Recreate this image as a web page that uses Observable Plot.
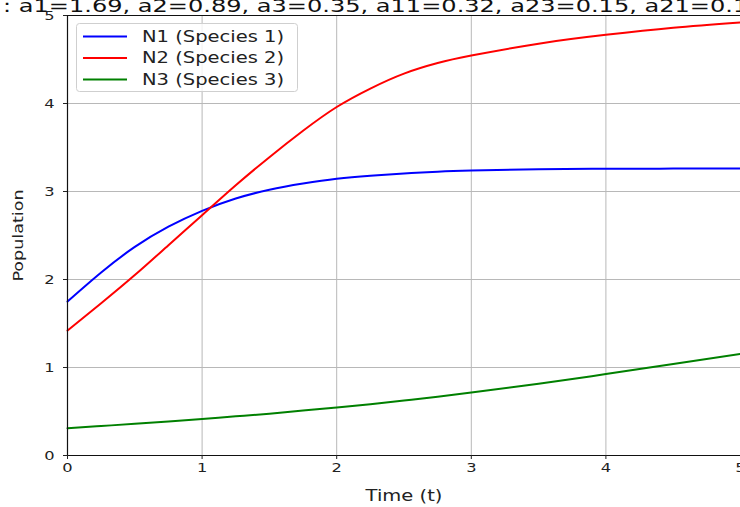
<!DOCTYPE html>
<html>
<head>
<meta charset="utf-8">
<script src="https://cdn.jsdelivr.net/npm/d3@7"></script>
<script src="https://cdn.jsdelivr.net/npm/@observablehq/plot@0.6"></script>
<style>
  html, body { margin: 0; padding: 0; background: white; }
  #wrap { position: relative; width: 740px; height: 507px; overflow: hidden; }
  #overlay { position: absolute; left: 0; top: 0; pointer-events: none; }
</style>
</head>
<body>
<div id="wrap"><div id="chart"></div></div>
<script>
// ---- data ----
const titleText = ": a1=1.69, a2=0.89, a3=0.35, a11=0.32, a23=0.15, a21=0.1";
const xLabel = "Time (t)";
const yLabel = "Population";
const seriesNames = ["N1 (Species 1)", "N2 (Species 2)", "N3 (Species 3)"];
const seriesColors = ["#0000ff", "#ff0000", "#008000"];
const xTicks = [0, 1, 2, 3, 4, 5];
const yTicks = [0, 1, 2, 3, 4, 5];
const times = [0, 0.25, 0.5, 0.75, 1, 1.25, 1.5, 1.75, 2, 2.25, 2.5, 2.75, 3, 3.5, 4, 4.5, 5];
const n1 = [1.75, 2.08, 2.37, 2.6, 2.78, 2.92, 3.02, 3.09, 3.145, 3.18, 3.205, 3.225, 3.238, 3.252, 3.258, 3.26, 3.26];
const n2 = [1.42, 1.73, 2.05, 2.39, 2.73, 3.07, 3.39, 3.69, 3.96, 4.17, 4.34, 4.46, 4.545, 4.68, 4.78, 4.86, 4.92];
const n3 = [0.31, 0.335, 0.36, 0.387, 0.415, 0.445, 0.475, 0.51, 0.545, 0.583, 0.625, 0.668, 0.715, 0.815, 0.925, 1.04, 1.155];

const seriesValues = [n1, n2, n3];
const rows = [];
seriesNames.forEach((name, i) => {
  times.forEach((t, j) => rows.push({series: name, t, v: seriesValues[i][j]}));
});

const FONT = "DejaVu Sans";
const STRETCH = 1.3;

const chart = Plot.plot({
  width: 740,
  height: 507,
  marginLeft: 67,
  marginRight: 0,
  marginTop: 15,
  marginBottom: 52,
  style: {fontFamily: FONT, fontSize: "12.5px", color: "#222", background: "white", overflow: "hidden"},
  x: {domain: [0, 5]},
  y: {domain: [0, 5]},
  color: {domain: seriesNames, range: seriesColors},
  marks: [
    Plot.gridX(xTicks, {stroke: "#b8b8b8", strokeOpacity: 1, strokeWidth: 1}),
    Plot.gridY(yTicks, {stroke: "#b8b8b8", strokeOpacity: 1, strokeWidth: 1}),
    Plot.line(rows, {x: "t", y: "v", z: "series", stroke: "series", strokeWidth: 2, curve: "natural"}),
    Plot.ruleX([0], {stroke: "#111", strokeWidth: 1.2}),
    Plot.ruleY([0, 5], {stroke: "#111", strokeWidth: 1.2}),
    Plot.axisX(xTicks, {tickSize: 4, tickPadding: 4, label: xLabel, labelAnchor: "center", labelArrow: "none", labelOffset: 45, tickFormat: d => String(d)}),
    Plot.axisY(yTicks, {tickSize: 4, tickPadding: 9, label: yLabel, labelAnchor: "center", labelArrow: "none", labelOffset: 54, tickFormat: d => String(d)})
  ]
});

document.getElementById("chart").append(chart);

// axis label font sizes
d3.select(chart).selectAll('g[aria-label="x-axis label"] text').attr("font-size", "15px");
d3.select(chart).selectAll('g[aria-label="y-axis label"] text').attr("font-size", "13.5px");

function stretch(sel, s) {
  sel.each(function() {
    const len = this.getComputedTextLength();
    if (len > 0) {
      this.setAttribute("textLength", len * s);
      this.setAttribute("lengthAdjust", "spacingAndGlyphs");
    }
  });
}
stretch(d3.select(chart).selectAll("text"), STRETCH);

// ---- overlay: title (cut off at top) and legend ----
const ov = d3.select("#wrap").append("svg")
  .attr("id", "overlay")
  .attr("width", 740).attr("height", 507)
  .style("font-family", FONT);

ov.append("text")
  .attr("x", 3).attr("y", 11.5)
  .attr("font-size", "18.5px")
  .attr("fill", "#111")
  .text(titleText);

const lg = ov.append("g");
lg.append("rect")
  .attr("x", 76.5).attr("y", 23.5).attr("width", 221).attr("height", 68)
  .attr("rx", 3).attr("fill", "white").attr("fill-opacity", 0.8)
  .attr("stroke", "#cfcfcf").attr("stroke-width", 1);
seriesNames.forEach((name, i) => {
  const cy = 36.5 + i * 21.5;
  lg.append("line").attr("x1", 83).attr("x2", 127).attr("y1", cy).attr("y2", cy)
    .attr("stroke", seriesColors[i]).attr("stroke-width", 2);
  lg.append("text").attr("x", 142).attr("y", cy).attr("dy", "0.36em")
    .attr("font-size", "15px").attr("fill", "#222").text(name);
});
stretch(ov.selectAll("text"), STRETCH);
</script>
</body>
</html>
